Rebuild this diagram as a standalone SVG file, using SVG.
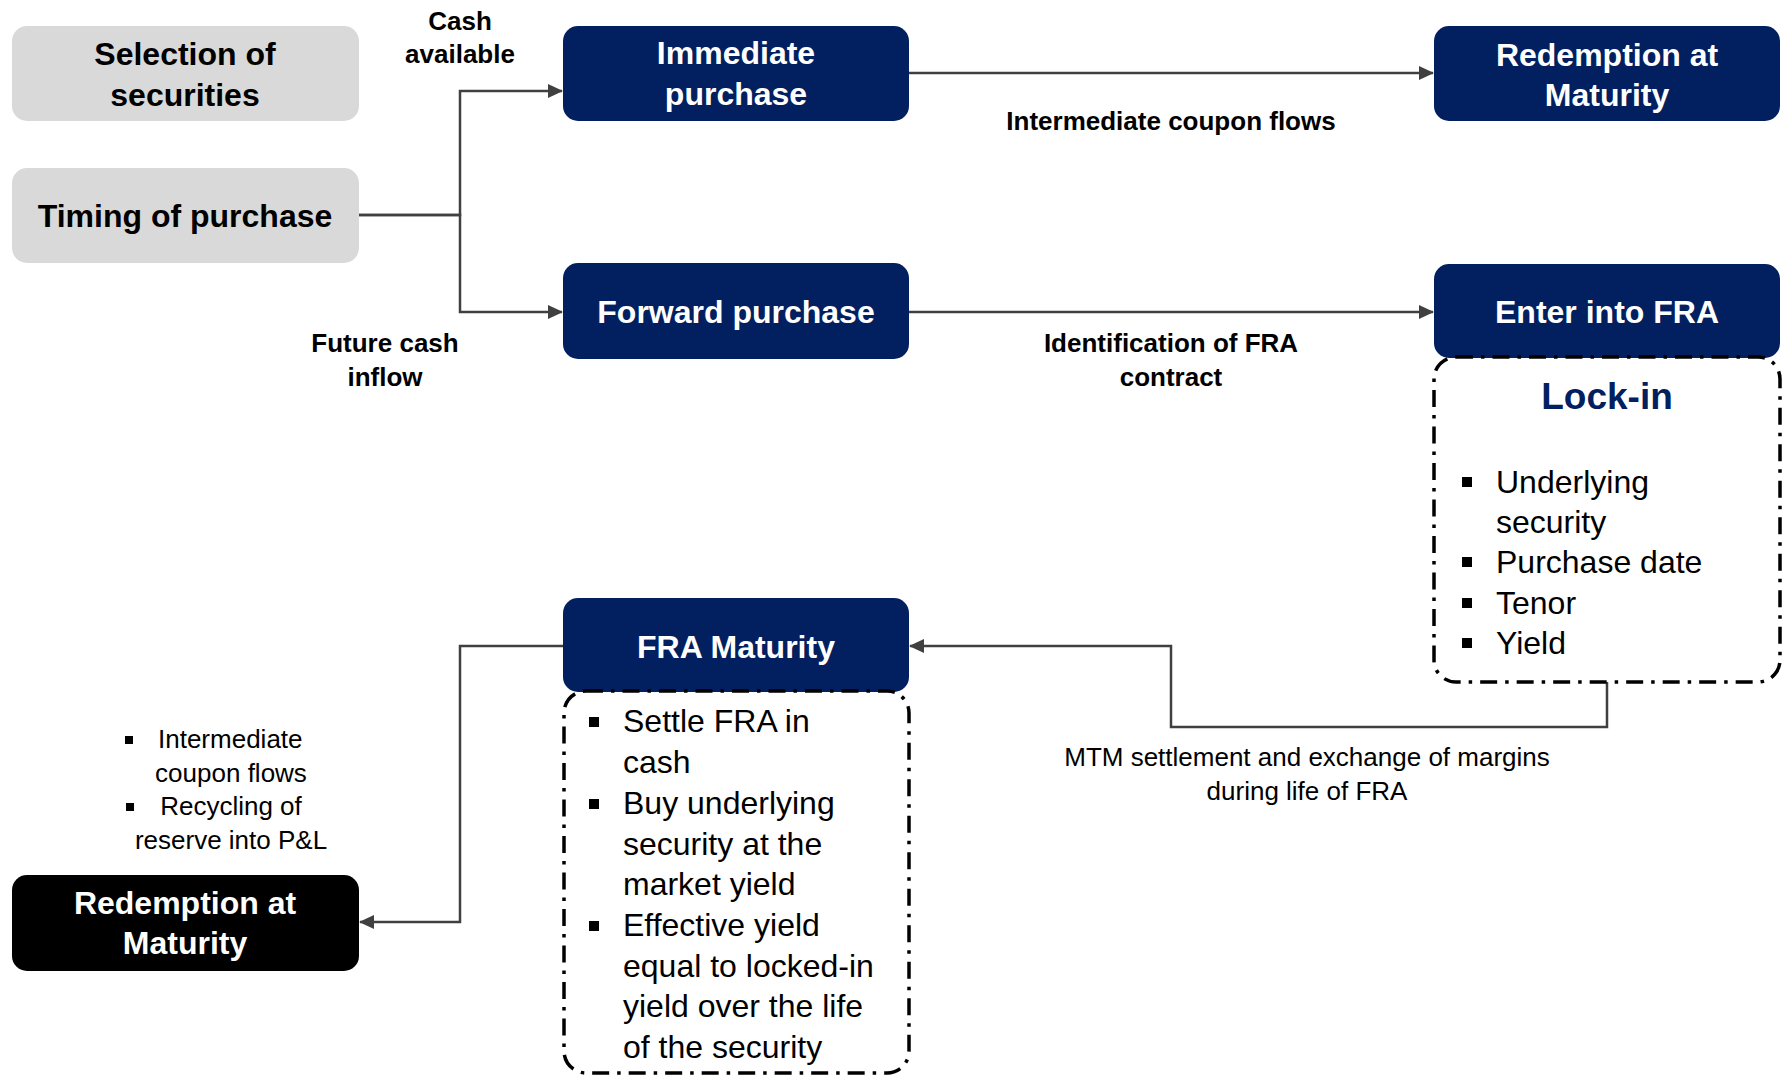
<svg xmlns="http://www.w3.org/2000/svg" width="1791" height="1075" viewBox="0 0 1791 1075">
  <style>
    text { font-family: "Liberation Sans", Arial, sans-serif; }
    .grey { fill: #D9D9D9; }
    .navy { fill: #022060; }
    .black { fill: #000000; }
    .t-node { font-size: 32px; font-weight: bold; text-anchor: middle; }
    .t-dark { fill: #000000; }
    .t-white { fill: #FFFFFF; }
    .lbl-b { font-size: 26px; font-weight: bold; fill: #000; text-anchor: middle; }
    .lbl { font-size: 26px; fill: #000; text-anchor: middle; }
    .list { font-size: 32px; fill: #000; }
    .frame { fill: none; stroke: #000; stroke-width: 3.5; stroke-dasharray: 17 8 3.5 8; }
    .wire { fill: none; stroke: #404040; stroke-width: 2.5; }
    .dot { fill: #000; }
  </style>
  <defs>
    <marker id="arrow" markerUnits="userSpaceOnUse" markerWidth="16" markerHeight="14" refX="14" refY="7" orient="auto">
      <path d="M0,0 L15,7 L0,14 z" fill="#404040"/>
    </marker>
  </defs>

  <rect width="1791" height="1075" fill="#FFFFFF"/>

  <!-- connectors and their labels -->
  <g id="connectors">
    <path class="wire" d="M359,215 H460 V91 H562" marker-end="url(#arrow)"/>
    <path class="wire" d="M359,215 H460 V312 H562" marker-end="url(#arrow)"/>
    <path class="wire" d="M909,73 H1433" marker-end="url(#arrow)"/>
    <path class="wire" d="M909,312 H1433" marker-end="url(#arrow)"/>
    <path class="wire" d="M1607,682 V727 H1171 V646 H910" marker-end="url(#arrow)"/>
    <path class="wire" d="M563,646 H460 V922 H360" marker-end="url(#arrow)"/>

    <text class="lbl-b" x="460" y="30">Cash</text>
    <text class="lbl-b" x="460" y="63">available</text>
    <text class="lbl-b" x="385" y="352">Future cash</text>
    <text class="lbl-b" x="385" y="386">inflow</text>
    <text class="lbl-b" x="1171" y="130">Intermediate coupon flows</text>
    <text class="lbl-b" x="1171" y="352">Identification of FRA</text>
    <text class="lbl-b" x="1171" y="386">contract</text>
    <text class="lbl" x="1307" y="766">MTM settlement and exchange of margins</text>
    <text class="lbl" x="1307" y="800">during life of FRA</text>
  </g>

  <!-- nodes -->
  <g id="selection-of-securities">
    <rect class="grey" x="12" y="26" width="347" height="95" rx="15"/>
    <text class="t-node t-dark" x="185" y="65">Selection of</text>
    <text class="t-node t-dark" x="185" y="106">securities</text>
  </g>

  <g id="timing-of-purchase">
    <rect class="grey" x="12" y="168" width="347" height="95" rx="15"/>
    <text class="t-node t-dark" x="185" y="227">Timing of purchase</text>
  </g>

  <g id="immediate-purchase">
    <rect class="navy" x="563" y="26" width="346" height="95" rx="15"/>
    <text class="t-node t-white" x="736" y="64">Immediate</text>
    <text class="t-node t-white" x="736" y="105">purchase</text>
  </g>

  <g id="forward-purchase">
    <rect class="navy" x="563" y="263" width="346" height="96" rx="15"/>
    <text class="t-node t-white" x="736" y="323">Forward purchase</text>
  </g>

  <g id="redemption-top">
    <rect class="navy" x="1434" y="26" width="346" height="95" rx="15"/>
    <text class="t-node t-white" x="1607" y="66">Redemption at</text>
    <text class="t-node t-white" x="1607" y="106">Maturity</text>
  </g>

  <g id="enter-into-fra">
    <rect class="navy" x="1434" y="264" width="346" height="94" rx="15"/>
    <text class="t-node t-white" x="1607" y="323">Enter into FRA</text>
  </g>

  <g id="lock-in">
    <rect class="frame" x="1434" y="357" width="346" height="325" rx="22"/>
    <text x="1607" y="409" font-size="37" font-weight="bold" fill="#022060" text-anchor="middle">Lock-in</text>
    <rect class="dot" x="1462" y="477" width="10" height="10"/>
    <text class="list" x="1496" y="493">Underlying</text>
    <text class="list" x="1496" y="533">security</text>
    <rect class="dot" x="1462" y="557" width="10" height="10"/>
    <text class="list" x="1496" y="573">Purchase date</text>
    <rect class="dot" x="1462" y="598" width="10" height="10"/>
    <text class="list" x="1496" y="614">Tenor</text>
    <rect class="dot" x="1462" y="638" width="10" height="10"/>
    <text class="list" x="1496" y="654">Yield</text>
  </g>

  <g id="fra-maturity">
    <rect class="navy" x="563" y="598" width="346" height="94" rx="15"/>
    <text class="t-node t-white" x="736" y="658">FRA Maturity</text>
  </g>

  <g id="fra-settlement">
    <rect class="frame" x="564" y="691" width="345" height="382" rx="22"/>
    <rect class="dot" x="589" y="717" width="10" height="10"/>
    <text class="list" x="623" y="732">Settle FRA in</text>
    <text class="list" x="623" y="773">cash</text>
    <rect class="dot" x="589" y="799" width="10" height="10"/>
    <text class="list" x="623" y="814">Buy underlying</text>
    <text class="list" x="623" y="855">security at the</text>
    <text class="list" x="623" y="895">market yield</text>
    <rect class="dot" x="589" y="921" width="10" height="10"/>
    <text class="list" x="623" y="936">Effective yield</text>
    <text class="list" x="623" y="977">equal to locked-in</text>
    <text class="list" x="623" y="1017">yield over the life</text>
    <text class="list" x="623" y="1058">of the security</text>
  </g>

  <g id="redemption-bottom">
    <rect class="black" x="12" y="875" width="347" height="96" rx="15"/>
    <text class="t-node t-white" x="185" y="914">Redemption at</text>
    <text class="t-node t-white" x="185" y="954">Maturity</text>
  </g>

  <g id="redemption-notes">
    <rect class="dot" x="125" y="736" width="8" height="8"/>
    <text class="lbl" x="158" y="748" style="text-anchor:start">Intermediate</text>
    <text class="lbl" x="231" y="782">coupon flows</text>
    <rect class="dot" x="126" y="803" width="8" height="8"/>
    <text class="lbl" x="231" y="815">Recycling of</text>
    <text class="lbl" x="231" y="849">reserve into P&amp;L</text>
  </g>
</svg>
